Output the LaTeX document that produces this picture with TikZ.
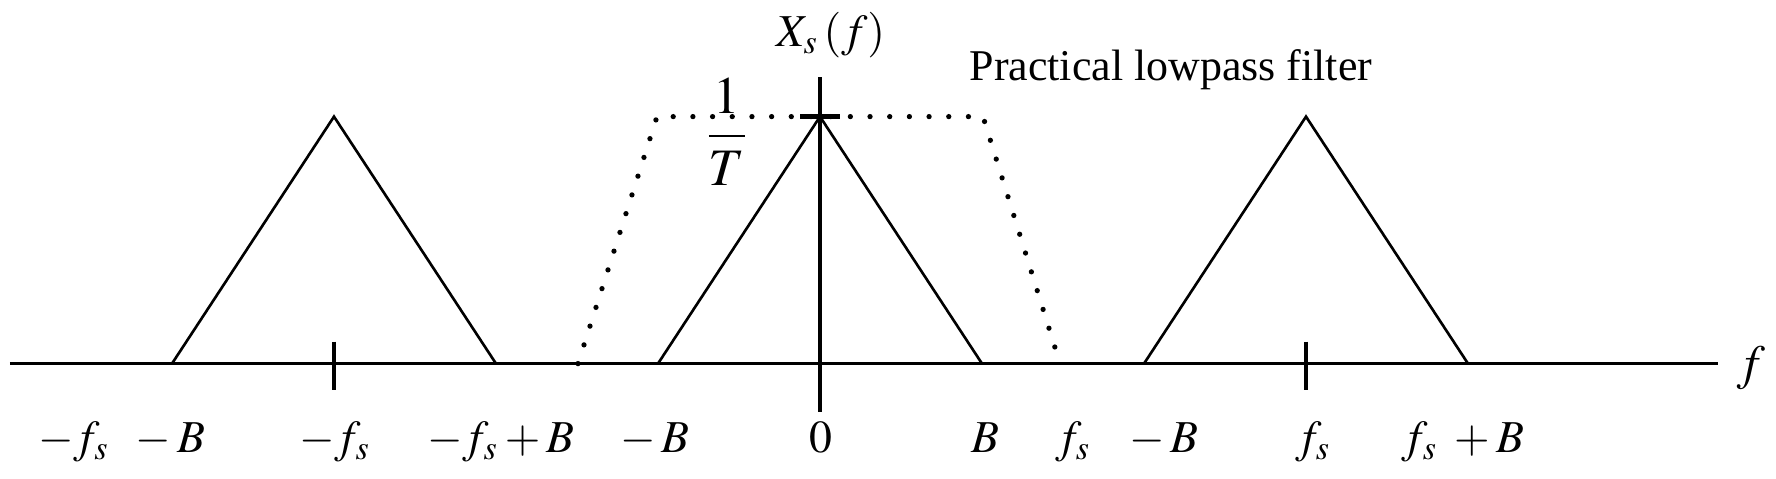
\documentclass[tikz,border=0pt]{standalone}
\usepackage{mathptmx}
\usepackage{fontspec}
\setmainfont{Liberation Serif}
\usetikzlibrary{calc,positioning}

\begin{document}
\begin{tikzpicture}[
    axisline/.style={line width=0.9pt},
    spectrum/.style={line width=0.75pt},
    filterline/.style={line width=1.5pt, dash pattern=on 0pt off 5.6pt, line cap=round},
    ticklabel/.style={anchor=base, inner sep=0pt, font=\fontsize{13}{15}\selectfont},
 ]
    \useasboundingbox (-8.20,-1.144) rectangle (9.56,3.636);
    \coordinate (O) at (0,0);
    \coordinate (L) at (-8.10,0);
    \coordinate (R) at (8.98,0);
    \coordinate (top) at (0,2.87);
    \coordinate (bot) at (0,-0.48);
    \coordinate (pk) at (0,2.47);

    % frequency axis and amplitude axis
    \draw[axisline] (L) -- (R);
    \draw[axisline] (bot) -- (top);
    \draw[line width=1.3pt] ($(pk)+(-0.2,0)$) -- ($(pk)+(0.2,0)$);
    \node[font=\fontsize{14}{16}\selectfont] (flab) at (9.31,-0.04) {$f$};
    \node[anchor=base, font=\fontsize{13}{15}\selectfont] (Xs) at (0.11,3.17) {$X_s\,(f)$};
    \node[font=\fontsize{15}{17}\selectfont] (amp) at (-0.93,2.32) {$\displaystyle\frac{1}{T}$};
    \node[font=\fontsize{12.5}{15}\selectfont] (lpf) at (3.51,2.94) {Practical lowpass filter};

    % shifted copies of the spectrum
    \foreach \c/\nm in {-4.86/lft, 0/mid, 4.86/rgt} {
        \coordinate (\nm) at (\c,0);
        \draw[spectrum] ($(\nm)+(-1.62,0)$) -- ($(\nm)+(0,2.47)$) -- ($(\nm)+(1.62,0)$);
    }
    \draw[axisline] ($(lft)+(0,0.22)$) -- ($(lft)+(0,-0.26)$);
    \draw[axisline] ($(rgt)+(0,0.22)$) -- ($(rgt)+(0,-0.26)$);

    % filter
    \coordinate (F1) at (-2.42,0);
    \coordinate (F2) at (-1.63,2.47);
    \coordinate (F3) at (1.63,2.47);
    \coordinate (F4) at (2.40,0);
    \draw[filterline] (F1) -- (F2) -- (F3) -- (F4);

    % tick labels
    \node[ticklabel] (l1) at (-6.98,-0.89) {$-f_s\;\;-B$};
    \node[ticklabel] (l2) at (-4.85,-0.89) {$-f_s$};
    \node[ticklabel] (l3) at (-3.19,-0.89) {$-f_s+B$};
    \node[ticklabel] (l4) at (-1.65,-0.89) {$-\,B$};
    \node[ticklabel] (l5) at (0.01,-0.89) {$0$};
    \node[ticklabel] (l6) at (1.65,-0.89) {$B$};
    \node[ticklabel] (l7) at (2.53,-0.89) {$f_s$};
    \node[ticklabel] (l8) at (3.44,-0.89) {$-\,B$};
    \node[ticklabel] (l9) at (4.93,-0.89) {$f_s$};
    \node[ticklabel] (l10) at (6.43,-0.89) {$f_s\;+B$};
\end{tikzpicture}
\end{document}
